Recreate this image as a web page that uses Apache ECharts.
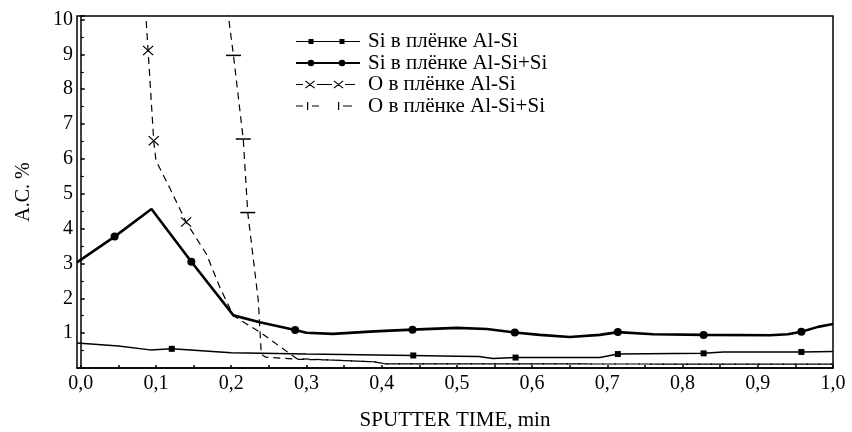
<!DOCTYPE html>
<html>
<head>
<meta charset="utf-8">
<script src="https://cdn.jsdelivr.net/npm/echarts@6/dist/echarts.min.js"></script>
<style>
html,body{margin:0;padding:0;background:#fff;}
#chart{width:852px;height:432px;}
</style>
</head>
<body>
<div id="chart"></div>
<script>
// ---- data ----
const xTickLabels = [0, 0.1, 0.2, 0.3, 0.4, 0.5, 0.6, 0.7, 0.8, 0.9, 1.0];
const xTickMarks = [0, 0.05, 0.1, 0.15, 0.2, 0.25, 0.3, 0.35, 0.4, 0.45, 0.5, 0.55, 0.6, 0.65, 0.7, 0.75, 0.8, 0.85, 0.9, 0.95, 1.0];
const seriesNames = ['Si в плёнке Al-Si', 'Si в плёнке Al-Si+Si', 'O в плёнке Al-Si', 'O в плёнке Al-Si+Si'];

const siAlSiLine = [[-0.005,0.72],[0.05,0.63],[0.092,0.52],[0.121,0.55],[0.2,0.44],[0.3,0.40],[0.442,0.36],[0.5,0.34],[0.529,0.33],[0.548,0.27],[0.578,0.30],[0.69,0.30],[0.714,0.40],[0.828,0.42],[0.854,0.46],[0.958,0.46],[1.0,0.47]];
const siAlSiMarkers = [[0.121,0.55],[0.442,0.36],[0.578,0.30],[0.714,0.40],[0.828,0.42],[0.958,0.46]];

const siAlSiSiLine = [[-0.005,3.03],[0.045,3.77],[0.094,4.56],[0.147,3.05],[0.203,1.51],[0.238,1.31],[0.285,1.09],[0.3,1.01],[0.335,0.98],[0.39,1.05],[0.441,1.10],[0.5,1.15],[0.54,1.12],[0.577,1.02],[0.61,0.95],[0.65,0.89],[0.69,0.95],[0.714,1.03],[0.761,0.97],[0.828,0.95],[0.916,0.94],[0.94,0.97],[0.958,1.04],[0.98,1.18],[1.0,1.26]];
const siAlSiSiMarkers = [[0.045,3.77],[0.147,3.05],[0.285,1.09],[0.441,1.10],[0.577,1.02],[0.714,1.03],[0.828,0.95],[0.958,1.04]];

const oAlSiLine = [[0.086,10.3],[0.0895,9.11],[0.097,6.52],[0.10,5.95],[0.118,5.18],[0.14,4.19],[0.167,3.27],[0.185,2.31],[0.203,1.5],[0.24,1.0],[0.287,0.27],[0.33,0.23],[0.39,0.18],[0.405,0.12],[1.0,0.11]];
const oAlSiMarkers = [[0.0895,9.11],[0.097,6.52],[0.14,4.19]];

const oAlSiSiLine = [[0.195,10.3],[0.203,8.97],[0.216,6.57],[0.222,4.46],[0.236,1.93],[0.24,0.39],[0.246,0.31],[0.29,0.25],[0.33,0.23],[0.39,0.18],[0.405,0.12],[1.0,0.11]];
const oAlSiSiMarkers = [[0.203,8.97],[0.216,6.57],[0.222,4.46]];

// ---- styles ----
const FONT = "'Liberation Serif','DejaVu Serif',serif";
const BOX = 'M0,0L0.01,0L0.01,0.01Z M67,12L66.99,12L66.99,11.99Z ';
const xPath = 'path://M0,0.8L0.8,0L10,9.2L9.2,10Z M9.2,0L10,0.8L0.8,10L0,9.2Z';
function legX(cx){
  const a=cx-5,b=cx+5;
  return `M${a},2.7L${a+0.8},2L${b},9.3L${b-0.8},10Z M${b-0.8},2L${b},2.7L${a+0.8},10L${a},9.3Z `;
}
const icon1 = 'path://' + BOX + 'M0,5.4H12.5V6.6H0Z M17.5,5.4H43.5V6.6H17.5Z M48.5,5.4H64V6.6H48.5Z M12.5,3.5h5v5h-5Z M43.5,3.5h5v5h-5Z';
const icon2 = 'path://' + BOX + 'M0,5H11.7V7H0Z M18.3,5H42.7V7H18.3Z M49.3,5H64V7H49.3Z M11.7,6A3.3,3.3 0 1,0 18.3,6A3.3,3.3 0 1,0 11.7,6Z M42.7,6A3.3,3.3 0 1,0 49.3,6A3.3,3.3 0 1,0 42.7,6Z';
const icon3 = 'path://' + BOX + 'M0,5.5H7V6.5H0Z M21,5.5H36V6.5H21Z M49,5.5H59V6.5H49Z ' + legX(14) + legX(42.5);
const icon4 = 'path://' + BOX + 'M0,5.5H7V6.5H0Z M11,2H12.2V10H11Z M16,5.5H23V6.5H16Z M42,2H43.2V10H42Z M47,5.5H56V6.5H47Z';

const fmtX = v => v.toFixed(1).replace('.', ',');

const chart = echarts.init(document.getElementById('chart'), null, {renderer:'canvas'});
chart.setOption({
  animation: false,
  backgroundColor: '#fff',
  textStyle: {fontFamily: FONT, color: '#000'},
  grid: {left: 77, right: 19, top: 16, bottom: 64, show: true, borderColor: '#000', borderWidth: 1.5, backgroundColor: 'transparent', containLabel: false, outerBoundsMode: 'none'},
  legend: {
    left: 296, top: 31, orient: 'vertical', selectedMode: false, padding: 0,
    itemWidth: 67, itemHeight: 12, itemGap: 0.5,
    itemStyle: {borderWidth: 0},
    textStyle: {fontFamily: FONT, fontSize: 21, color: '#000', lineHeight: 12},
    data: [
      {name: seriesNames[0], icon: icon1},
      {name: seriesNames[1], icon: icon2},
      {name: seriesNames[2], icon: icon3},
      {name: seriesNames[3], icon: icon4}
    ]
  },
  xAxis: {
    type: 'value', min: -0.005, max: 1.0,
    name: 'SPUTTER TIME, min', nameLocation: 'middle', nameGap: 42,
    nameTextStyle: {fontFamily: FONT, fontSize: 21, color: '#000'},
    axisLine: {show: true, lineStyle: {color: '#000', width: 1.5}},
    axisTick: {show: true, inside: true, length: 3, customValues: xTickMarks, lineStyle: {color: '#000', width: 1.5}},
    axisLabel: {customValues: xTickLabels, formatter: fmtX, color: '#000', fontFamily: FONT, fontSize: 20, margin: 6},
    splitLine: {show: false}
  },
  yAxis: {
    type: 'value', min: 0, max: 10.1, interval: 1,
    name: 'A.C. %', nameLocation: 'middle', nameGap: 43, nameRotate: 90,
    nameTextStyle: {fontFamily: FONT, fontSize: 20, color: '#000'},
    axisLine: {show: true, lineStyle: {color: '#000', width: 1.5}},
    axisTick: {show: true, inside: true, length: 4, lineStyle: {color: '#000', width: 1.5}},
    minorTick: {show: true, splitNumber: 2, length: 3, lineStyle: {color: '#000', width: 1.2}},
    axisLabel: {formatter: v => (Number.isInteger(v) && v > 0) ? String(v) : '', color: '#000', fontFamily: FONT, fontSize: 20, margin: 4},
    splitLine: {show: false}
  },
  series: [
    {type: 'line', name: seriesNames[0], data: siAlSiLine, symbol: 'none', color: '#000',
     lineStyle: {color: '#000', width: 1.5}, z: 3},
    {type: 'line', name: seriesNames[1], data: siAlSiSiLine, symbol: 'none', color: '#000',
     lineStyle: {color: '#000', width: 2.6}, z: 3},
    {type: 'line', name: seriesNames[2], data: oAlSiLine, symbol: 'none', color: '#000',
     lineStyle: {color: '#000', width: 1.2, type: [7, 5]}, z: 2},
    {type: 'line', name: seriesNames[3], data: oAlSiSiLine, symbol: 'none', color: '#000',
     lineStyle: {color: '#000', width: 1.2, type: [7, 5]}, z: 2},
    {type: 'scatter', data: siAlSiMarkers, symbol: 'rect', symbolSize: 6, itemStyle: {color: '#000', opacity: 1}, z: 4, silent: true},
    {type: 'scatter', data: siAlSiSiMarkers, symbol: 'circle', symbolSize: 8, itemStyle: {color: '#000', opacity: 1}, z: 4, silent: true},
    {type: 'scatter', data: oAlSiMarkers, symbol: xPath, symbolSize: [11, 10], itemStyle: {color: '#000', opacity: 1}, z: 4, silent: true},
    {type: 'scatter', data: oAlSiSiMarkers, symbol: 'rect', symbolSize: [15, 1.5], itemStyle: {color: '#000', opacity: 1}, z: 4, silent: true}
  ]
});
</script>
</body>
</html>
